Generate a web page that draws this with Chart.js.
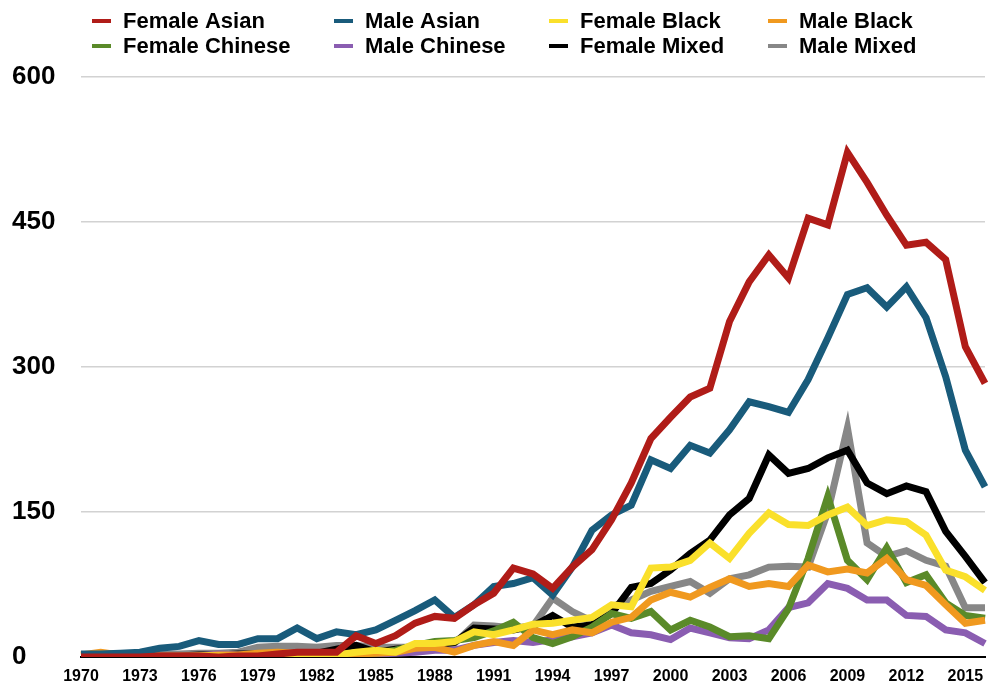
<!DOCTYPE html>
<html>
<head>
<meta charset="utf-8">
<script src="https://cdn.jsdelivr.net/npm/chart.js@4.4.1/dist/chart.umd.min.js"></script>
<style>
html,body{margin:0;padding:0;background:#ffffff;}
#wrap{width:988px;height:689px;position:relative;}
</style>
</head>
<body>
<div id="wrap"><canvas id="c" width="988" height="689"></canvas></div>
<script>
const years = ['1970','1971','1972','1973','1974','1975','1976','1977','1978','1979',
  '1980','1981','1982','1983','1984','1985','1986','1987','1988','1989',
  '1990','1991','1992','1993','1994','1995','1996','1997','1998','1999',
  '2000','2001','2002','2003','2004','2005','2006','2007','2008','2009',
  '2010','2011','2012','2013','2014','2015','2016'];
const tickYears = ['1970','1973','1976','1979','1982','1985','1988','1991','1994','1997','2000','2003','2006','2009','2012','2015'];
const yTicks = [0, 150, 300, 450, 600];

const femaleAsian   = [0,0,0,0,1,1,1,0,1,1, 3,5,5,5,22,14,22,35,42,40, 54,66,92,86,71,93,111,142,180,226, 248,269,278,347,388,416,392,454,447,522, 491,457,426,429,411,321,283];
const maleAsian     = [3,3,4,5,9,11,17,13,13,19, 19,30,19,26,23,28,38,48,59,41, 54,73,76,82,64,93,131,147,157,204, 195,219,211,235,264,259,253,287,330,375, 382,362,383,351,290,214,176];
const femaleBlack   = [0,0,0,0,0,0,1,1,0,0, 1,0,0,2,5,7,5,14,14,16, 26,23,28,34,35,38,41,54,52,92, 93,100,118,102,128,149,137,136,147,155, 136,142,140,126,90,83,69];
const maleBlack     = [2,5,2,1,1,1,1,2,2,4, 5,4,3,2,3,4,5,9,10,5, 12,16,12,28,23,28,25,36,41,59, 67,62,72,81,73,76,73,95,88,91, 87,102,80,74,54,35,38];
const femaleChinese = [1,1,0,0,0,0,0,0,0,1, 1,2,2,3,3,4,7,12,16,17, 20,27,36,20,14,21,31,45,40,47, 28,38,31,21,22,19,50,102,166,100, 80,113,77,85,56,43,40];
const maleChinese   = [0,0,0,0,1,1,1,3,2,2, 1,2,2,2,2,3,4,5,7,7, 12,15,17,15,18,21,25,33,25,23, 18,30,25,20,19,28,51,56,76,71, 59,59,43,42,28,25,14];
const femaleMixed   = [0,0,0,1,1,1,2,2,3,3, 3,4,4,8,12,5,8,10,12,15, 30,29,28,32,43,31,33,45,72,76, 90,107,121,147,164,209,190,195,206,214, 180,169,177,171,130,104,77];
const maleMixed     = [2,2,2,3,3,3,4,4,5,10, 11,11,10,12,12,10,10,10,12,14, 33,32,30,32,61,47,37,52,59,68, 73,78,66,81,85,93,94,93,150,237, 118,104,110,100,94,51,51];

const seriesNames = ['Female Asian','Male Asian','Female Black','Male Black','Female Chinese','Male Chinese','Female Mixed','Male Mixed'];
const seriesData = [femaleAsian, maleAsian, femaleBlack, maleBlack, femaleChinese, maleChinese, femaleMixed, maleMixed];
const seriesColors = ['#b01c18','#195b7b','#fae02b','#f0991f','#5a8a29','#8a5db1','#000000','#878787'];

const FONT = '"Liberation Sans", Arial, Helvetica, sans-serif';
Chart.defaults.font.family = FONT;

const legendCols = [92, 334, 549, 768];
const legendRows = [21, 46];

const gridLegend = {
  id: 'gridLegend',
  afterDraw(chart) {
    const ctx = chart.ctx;
    ctx.save();
    ctx.font = 'bold 22px ' + FONT;
    ctx.textBaseline = 'middle';
    ctx.textAlign = 'left';
    chart.data.datasets.forEach((ds, i) => {
      const x = legendCols[i % 4];
      const y = legendRows[Math.floor(i / 4)];
      ctx.fillStyle = ds.borderColor;
      ctx.fillRect(x, y - 2, 19, 4);
      ctx.fillStyle = '#000000';
      ctx.fillText(ds.label, x + 31, y + 1);
    });
    ctx.restore();
  }
};

const datasets = seriesNames.map((name, i) => ({
  label: name,
  data: seriesData[i],
  borderColor: seriesColors[i],
  backgroundColor: seriesColors[i],
  borderWidth: 7,
  pointRadius: 0,
  pointHoverRadius: 0,
  tension: 0,
  fill: false,
  borderJoinStyle: 'miter',
  borderCapStyle: 'butt'
}));

new Chart(document.getElementById('c'), {
  type: 'line',
  data: { labels: years, datasets },
  options: {
    responsive: false,
    animation: false,
    devicePixelRatio: 1,
    layout: { padding: { top: 77, left: 12, right: 3, bottom: 0 } },
    plugins: { legend: { display: false }, tooltip: { enabled: false } },
    scales: {
      x: {
        type: 'category',
        offset: false,
        grid: { display: false, drawTicks: false },
        border: { display: true, color: '#000000', width: 2 },
        ticks: {
          autoSkip: false, maxRotation: 0, minRotation: 0, padding: 10,
          color: '#000000', font: { size: 16, weight: 'bold' },
          callback(v) { const l = this.getLabelForValue(v); return tickYears.includes(l) ? l : ''; }
        },
        afterFit(s) { s.height = 32; s.paddingRight = 0; s.paddingLeft = 0; }
      },
      y: {
        min: yTicks[0], max: yTicks[yTicks.length - 1],
        afterBuildTicks(s) { s.ticks = yTicks.map(v => ({ value: v })); },
        grid: {
          drawTicks: false, lineWidth: 1.5,
          color(c) { return c.tick && c.tick.value === 0 ? 'rgba(0,0,0,0)' : '#d2d2d2'; }
        },
        border: { display: false },
        ticks: { crossAlign: 'far', padding: 0, color: '#000000', font: { size: 26, weight: 'bold' } },
        afterFit(s) { s.width = 69; s.paddingTop = 0; s.paddingBottom = 0; }
      }
    }
  },
  plugins: [gridLegend]
});
</script>
</body>
</html>
